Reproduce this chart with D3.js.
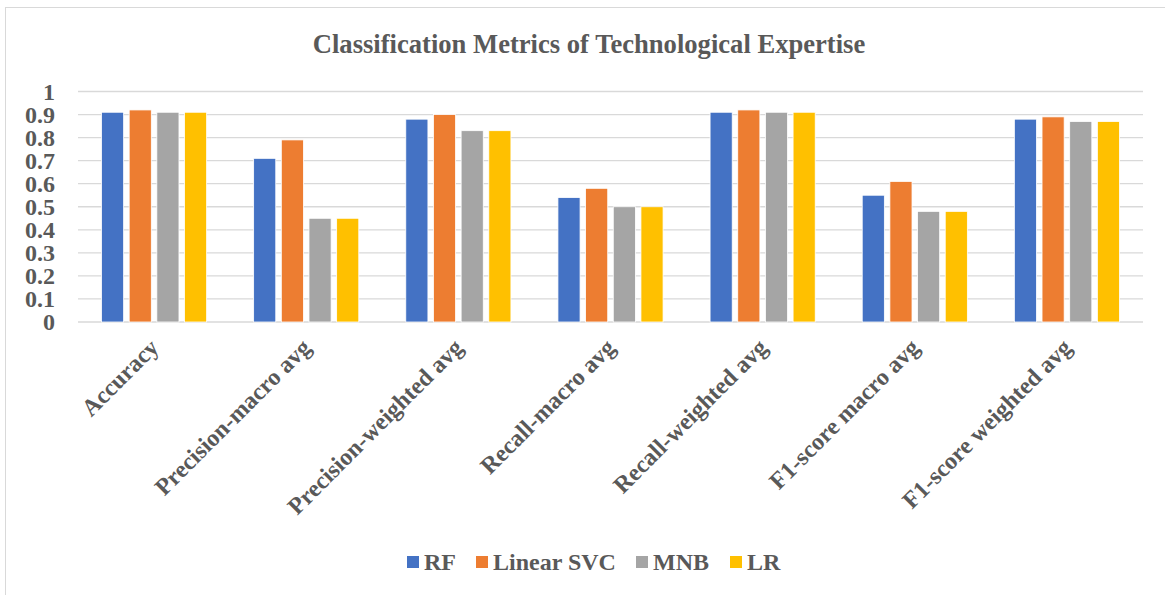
<!DOCTYPE html>
<html lang="en">
    <head>
        <meta charset="utf-8">
        <title>Classification Metrics</title>
        <script type="text/javascript" src="https://cdn.jsdelivr.net/npm/d3@7"></script>
        <style>
          body { margin: 0; background: #fff; }
          text { font-family: "Liberation Serif", "Times New Roman", serif; font-weight: bold; fill: #595959; }
        </style>
    </head>
    <body>
        <script type="text/javascript">
          // data
          var categories = ["Accuracy", "Precision-macro avg", "Precision-weighted avg", "Recall-macro avg",
                            "Recall-weighted avg", "F1-score macro avg", "F1-score weighted avg"];
          var seriesNames = ["RF", "Linear SVC", "MNB", "LR"];
          var rf        = [0.91, 0.71, 0.88, 0.54, 0.91, 0.55, 0.88];
          var linearSvc = [0.92, 0.79, 0.90, 0.58, 0.92, 0.61, 0.89];
          var mnb       = [0.91, 0.45, 0.83, 0.50, 0.91, 0.48, 0.87];
          var lr        = [0.91, 0.45, 0.83, 0.50, 0.91, 0.48, 0.87];
          var yTicks = [0, 0.1, 0.2, 0.3, 0.4, 0.5, 0.6, 0.7, 0.8, 0.9, 1];
          var colors = ["#4472C4", "#ED7D31", "#A5A5A5", "#FFC000"];

          var allSeries = [rf, linearSvc, mnb, lr];

          var w = 1165;
          var h = 595;
          var plotLeft = 78, plotRight = 1143, plotTop = 91.5, plotBottom = 322;

          var svg = d3.select("body")
            .append("svg")
            .attr("width", w)
            .attr("height", h);

          // chart border
          svg.append("rect")
            .attr("x", 5.5).attr("y", 7.5)
            .attr("width", 1170).attr("height", 600)
            .attr("fill", "white")
            .attr("stroke", "#d9d9d9");

          var x0 = d3.scaleBand().domain(categories).range([plotLeft, plotRight]);
          var x1 = d3.scaleBand().domain(seriesNames)
            .range([23.5, x0.bandwidth() - 23.5])
            .paddingInner(0.2);
          var y = d3.scaleLinear().domain([0, 1]).range([plotBottom, plotTop]);

          // gridlines
          svg.append("g").selectAll("line")
            .data(yTicks)
            .enter()
            .append("line")
            .attr("x1", plotLeft).attr("x2", plotRight)
            .attr("y1", function(d) { return y(d); })
            .attr("y2", function(d) { return y(d); })
            .attr("stroke", "#d9d9d9")
            .attr("stroke-width", 1.3);

          // y labels
          svg.append("g").selectAll("text")
            .data(yTicks)
            .enter()
            .append("text")
            .attr("x", 55)
            .attr("y", function(d) { return y(d); })
            .attr("dy", "0.35em")
            .attr("text-anchor", "end")
            .attr("font-size", "24px")
            .text(function(d) { return d3.format("")(d); });

          // bars
          var groups = svg.append("g").selectAll("g")
            .data(categories)
            .enter()
            .append("g")
            .attr("transform", function(d) { return "translate(" + x0(d) + ",0)"; });

          groups.selectAll("rect")
            .data(function(d, i) {
              return allSeries.map(function(s, j) { return { name: seriesNames[j], value: s[i], k: j }; });
            })
            .enter()
            .append("rect")
            .attr("x", function(d) { return x1(d.name); })
            .attr("y", function(d) { return y(d.value); })
            .attr("width", x1.bandwidth())
            .attr("height", function(d) { return plotBottom - y(d.value); })
            .attr("fill", function(d) { return colors[d.k]; })
            .attr("stroke", "white")
            .attr("stroke-width", 0.8);

          // x labels
          svg.append("g").selectAll("text")
            .data(categories)
            .enter()
            .append("text")
            .attr("transform", function(d) {
              return "translate(" + (x0(d) + x0.bandwidth() / 2 + 6) + "," + 349 + ") rotate(-45)";
            })
            .attr("text-anchor", "end")
            .attr("font-size", "24px")
            .text(function(d) { return d; });

          // title
          svg.append("text")
            .attr("x", 589)
            .attr("y", 53)
            .attr("text-anchor", "middle")
            .attr("font-size", "26.6px")
            .text("Classification Metrics of Technological Expertise");

          // legend
          var legendX = [407, 476, 636, 730];
          var legend = svg.append("g").selectAll("g")
            .data(seriesNames)
            .enter()
            .append("g")
            .attr("transform", function(d, i) { return "translate(" + legendX[i] + ",556)"; });

          legend.append("rect")
            .attr("width", 12).attr("height", 12)
            .attr("fill", function(d, i) { return colors[i]; });

          legend.append("text")
            .attr("x", 17)
            .attr("y", 14)
            .attr("font-size", "24px")
            .text(function(d) { return d; });
        </script>
    </body>
</html>
